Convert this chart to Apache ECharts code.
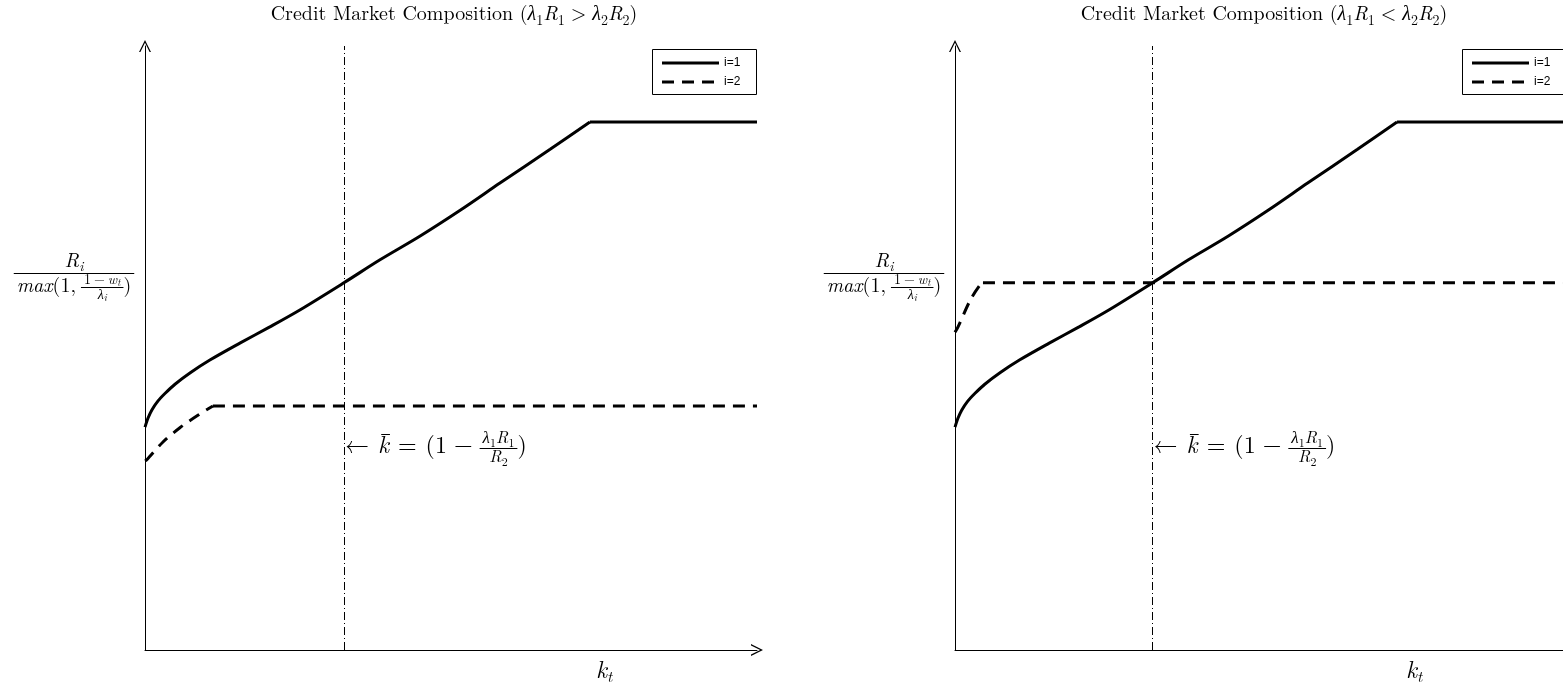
<!DOCTYPE html>
<html>
<head>
<meta charset="utf-8">
<script src="https://cdn.jsdelivr.net/npm/echarts@6/dist/echarts.min.js"></script>
<style>
  html, body { margin: 0; padding: 0; background: #fff; }
  #chart { width: 1563px; height: 686px; }
</style>
</head>
<body>
<div id="chart"></div>
<script>
// Capital stock k_t and the return ratio R_i / max(1, (1 - w_t)/lambda_i), both on a 0-100 scale.
const kPath1 = [0, 0.5, 1.1, 2.1, 3.3, 4.9, 7.4, 10.6, 15.5, 20.4, 25.3, 32.5, 38.4, 44.9, 51.5, 58.0, 66.2, 72.7, 100];
const ratio1 = [36.9, 38.4, 39.7, 41.2, 42.5, 44.0, 45.9, 48.0, 50.8, 53.5, 56.3, 60.8, 64.6, 68.5, 72.8, 77.3, 82.9, 87.4, 87.4];
// lender type 2 when lambda1 R1 > lambda2 R2
const kPath2a = [0, 0.3, 2.9, 5.7, 8.7, 11.1, 100];
const ratio2a = [31.3, 31.5, 34.4, 36.8, 38.9, 40.4, 40.4];
// lender type 2 when lambda1 R1 < lambda2 R2
const kPath2b = [0, 0.5, 2.5, 4.1, 4.6, 100];
const ratio2b = [52.6, 53.5, 57.9, 60.4, 60.8, 60.8];
// threshold k-bar
const kBar = 32.5;
const seriesNames = ['i=1', 'i=2'];
const relations = ['>', '<'];

const zip = (xs, ys) => xs.map((x, i) => [x, ys[i]]);

const SERIF = '"Latin Modern Roman", "CMU Serif", "Liberation Serif", "DejaVu Serif", serif';
const SANS = '"Liberation Sans", Arial, Helvetica, sans-serif';
const ARROW = 'path://M0,12 L6,0 L12,12 L10.6,12 L6,2.8 L1.4,12 Z';
const DASH = [12, 8];
const DASHDOT = [8, 3, 1, 3];

const chart = echarts.init(document.getElementById('chart'), null, { renderer: 'canvas' });

function makeAxis(g, arrow) {
  return {
    gridIndex: g, type: 'value', min: 0, max: 100,
    axisLine: { show: true, onZero: false, lineStyle: { color: '#000', width: 1 }, symbol: ['none', arrow ? ARROW : 'none'], symbolSize: [12, 12] },
    axisTick: { show: false }, axisLabel: { show: false }, splitLine: { show: false }
  };
}

// a curve = a smooth rising part followed by a flat part that starts at the kink
function curveSeries(name, g, xs, ys, dashed, withMark) {
  const pts = zip(xs, ys);
  const base = {
    name, type: 'line', xAxisIndex: g, yAxisIndex: g,
    symbol: 'none', showSymbol: false, silent: true,
    lineStyle: { color: '#000', width: 3, type: dashed ? DASH : 'solid', cap: 'butt' },
    z: 3
  };
  const rising = Object.assign({}, base, { data: pts.slice(0, -1), smooth: 0.3 });
  const flat = Object.assign({}, base, { data: pts.slice(-2), smooth: false });
  if (withMark) {
    rising.markLine = {
      silent: true, symbol: 'none', label: { show: false },
      lineStyle: { color: '#000', width: 1, type: DASHDOT },
      data: [{ xAxis: kBar }]
    };
  }
  return [rising, flat];
}

chart.setOption({
  animation: false,
  backgroundColor: '#fff',
  grid: [
    { left: 145, top: 46, width: 612, height: 604 },
    { left: 955, top: 46, width: 612, height: 604 }
  ],
  // the right panel runs past the page edge, so its horizontal arrowhead is not shown
  xAxis: [makeAxis(0, true), makeAxis(1, false)],
  yAxis: [makeAxis(0, true), makeAxis(1, true)],
  series: [].concat(
    curveSeries(seriesNames[0], 0, kPath1, ratio1, false, true),
    curveSeries(seriesNames[1], 0, kPath2a, ratio2a, true, false),
    curveSeries(seriesNames[0], 1, kPath1, ratio1, false, true),
    curveSeries(seriesNames[1], 1, kPath2b, ratio2b, true, false)
  )
});

// ---- small typesetting helpers for the math labels ----
const mctx = document.createElement('canvas').getContext('2d');
function fontOf(s, it) { return (it ? 'italic ' : '') + s + 'px ' + SERIF; }
function textW(t, s, it) { mctx.font = fontOf(s, it); return mctx.measureText(t).width; }
function textEl(t, x, base, s, it) {
  return {
    type: 'text', silent: true, x: x, y: base - 0.34 * s, z: 10,
    style: { text: t, font: fontOf(s, it), fill: '#000', align: 'left', textAlign: 'left', verticalAlign: 'middle', textVerticalAlign: 'middle' }
  };
}
function hLine(x1, x2, y, w) {
  const yy = Math.round(y) + 0.5;
  return { type: 'line', silent: true, z: 10, shape: { x1: x1, y1: yy, x2: x2, y2: yy }, style: { stroke: '#000', lineWidth: w || 1 } };
}
function layRow(items, x, base, out) {
  let cx = x;
  for (const p of items) {
    if (p.sp != null) { cx += p.sp; continue; }
    if (p.frac) { cx += layFrac(p, cx, base - p.axis, out); continue; }
    const w = textW(p.t, p.s, p.it);
    const y = base + (p.dy || 0);
    if (out) {
      out.push(textEl(p.t, cx, y, p.s, p.it));
      if (p.bar) out.push(hLine(cx + 0.3 * w, cx + w + 1, y - 0.82 * p.s, 1));
    }
    cx += w;
  }
  return cx - x;
}
function layFrac(p, x, barY, out) {
  const wn = layRow(p.num, 0, 0, null), wd = layRow(p.den, 0, 0, null);
  const w = Math.max(wn, wd) + 2 * (p.pad || 2);
  if (out) {
    out.push(hLine(x, x + w, barY, 1));
    layRow(p.num, x + (w - wn) / 2, barY - p.up, out);
    layRow(p.den, x + (w - wd) / 2, barY + p.down, out);
  }
  return w;
}

function titleParts(rel) {
  const S = 20, s = 14, d = 4;
  return [
    { t: 'Credit Market Composition (', s: S },
    { t: 'λ', s: S, it: true }, { t: '1', s: s, dy: d }, { t: 'R', s: S, it: true }, { t: '1', s: s, dy: d },
    { sp: 6 }, { t: rel, s: S }, { sp: 6 },
    { t: 'λ', s: S, it: true }, { t: '2', s: s, dy: d }, { t: 'R', s: S, it: true }, { t: '2', s: s, dy: d },
    { t: ')', s: S }
  ];
}

const yLabel = {
  frac: true, pad: 3, up: 5, down: 20, axis: 0,
  num: [{ t: 'R', s: 20, it: true }, { t: 'i', s: 14, it: true, dy: 3 }],
  den: [
    { t: 'max', s: 20, it: true }, { t: '(1,', s: 20 }, { sp: 5 },
    { frac: true, axis: 6, pad: 3, up: 3, down: 12,
      num: [{ t: '1', s: 14 }, { sp: 3 }, { t: '−', s: 14 }, { sp: 3 }, { t: 'w', s: 14, it: true }, { t: 't', s: 10, it: true, dy: 2 }],
      den: [{ t: 'λ', s: 14, it: true }, { t: 'i', s: 10, it: true, dy: 2 }] },
    { t: ')', s: 20 }
  ]
};

const A = 24;
const kBarLabel = [
  { t: '←', s: A }, { sp: 9 }, { t: 'k', s: A, it: true, bar: true }, { sp: 9 }, { t: '=', s: A }, { sp: 9 },
  { t: '(1', s: A }, { sp: 7 }, { t: '−', s: A }, { sp: 7 },
  { frac: true, axis: 6, pad: 3, up: 4, down: 15,
    num: [{ t: 'λ', s: 17, it: true }, { t: '1', s: 12, dy: 3 }, { t: 'R', s: 17, it: true }, { t: '1', s: 12, dy: 3 }],
    den: [{ t: 'R', s: 17, it: true }, { t: '2', s: 12, dy: 3 }] },
  { t: ')', s: A }
];

const kLabel = [{ t: 'k', s: 24, it: true }, { t: 't', s: 16, it: true, dy: 4 }];

function legendEls(x0) {
  const txt = (t, y) => ({
    type: 'text', silent: true, x: x0 + 72, y: y, z: 12,
    style: { text: t, font: '12px ' + SANS, fill: '#000', align: 'left', textAlign: 'left', verticalAlign: 'middle', textVerticalAlign: 'middle' }
  });
  return [
    { type: 'rect', silent: true, z: 11, shape: { x: x0 + 0.5, y: 49.5, width: 104, height: 45 }, style: { fill: '#fff', stroke: '#000', lineWidth: 1 } },
    { type: 'line', silent: true, z: 12, shape: { x1: x0 + 10, y1: 63, x2: x0 + 67, y2: 63 }, style: { stroke: '#000', lineWidth: 3 } },
    { type: 'line', silent: true, z: 12, shape: { x1: x0 + 10, y1: 82, x2: x0 + 67, y2: 82 }, style: { stroke: '#000', lineWidth: 3, lineDash: DASH } },
    txt(seriesNames[0], 63), txt(seriesNames[1], 82)
  ];
}

const els = [];
[0, 1].forEach(g => {
  const origin = chart.convertToPixel({ gridIndex: g }, [0, 0]);
  const kb = chart.convertToPixel({ gridIndex: g }, [kBar, 0]);
  const dx = origin[0] - 145;
  // title, centred over the panel
  const tp = titleParts(relations[g]);
  const tw = layRow(tp, 0, 0, null);
  layRow(tp, 454 + dx - tw / 2, 21, els);
  // vertical axis label
  const yw = layFrac(yLabel, 0, 0, null);
  layFrac(yLabel, 74 + dx - yw / 2, 273, els);
  // horizontal axis label
  layRow(kLabel, 596 + dx, 679, els);
  // threshold annotation next to the dash-dot line
  layRow(kBarLabel, kb[0] + 1, 454, els);
  // legend box
  legendEls(652 + dx).forEach(e => els.push(e));
});

chart.setOption({ graphic: [{ elements: els }] });
</script>
</body>
</html>
